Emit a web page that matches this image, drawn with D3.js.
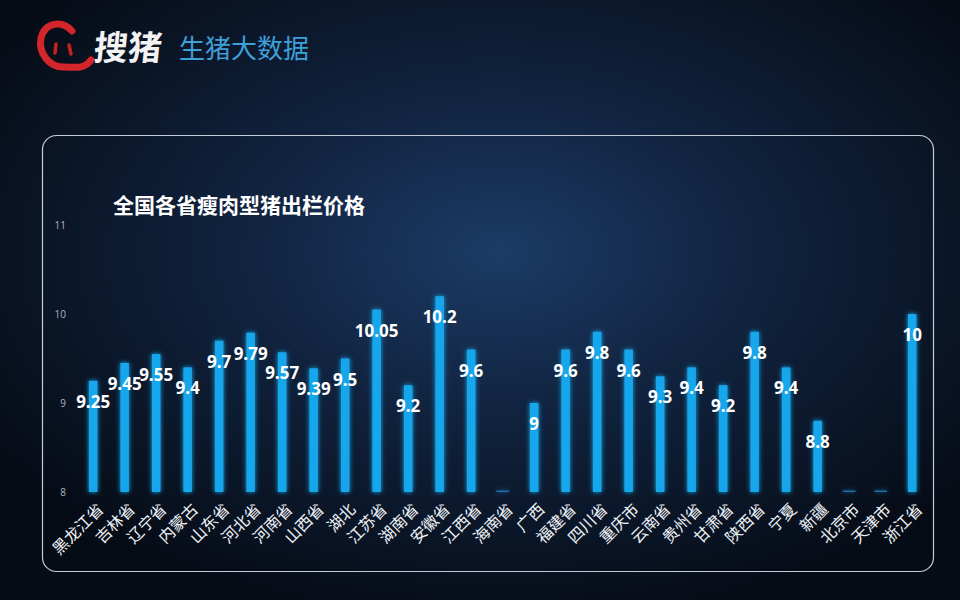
<!DOCTYPE html>
<html lang="zh">
<head>
<meta charset="UTF-8">
<script src="https://cdn.jsdelivr.net/npm/d3@7"></script>
<title>全国各省瘦肉型猪出栏价格</title>
<style>
  html, body { margin: 0; padding: 0; background: #08101c; }
  svg { display: block; }
</style>
</head>
<body>
<script>
    // 数据
    const provinces = ["黑龙江省","吉林省","辽宁省","内蒙古","山东省","河北省","河南省","山西省","湖北","江苏省",
                       "湖南省","安徽省","江西省","海南省","广西","福建省","四川省","重庆市","云南省","贵州省",
                       "甘肃省","陕西省","宁夏","新疆","北京市","天津市","浙江省"]
    const prices = [9.25, 9.45, 9.55, 9.4, 9.7, 9.79, 9.57, 9.39, 9.5, 10.05,
                    9.2, 10.2, 9.6, null, 9, 9.6, 9.8, 9.6, 9.3, 9.4,
                    9.2, 9.8, 9.4, 8.8, null, null, 10]
    const yTicks = [8, 9, 10, 11]
    const title = "全国各省瘦肉型猪出栏价格"

    const width = 960, height = 600
    const svg = d3.select("body").append("svg").attr("width", width).attr("height", height)
    const defs = svg.append("defs")

    // 背景渐变
    const bg = defs.append("radialGradient").attr("id", "bg")
        .attr("cx", "52%").attr("cy", "42%").attr("r", "62%")
    bg.append("stop").attr("offset", "0%").attr("stop-color", "#1c3b66")
    bg.append("stop").attr("offset", "45%").attr("stop-color", "#10223d")
    bg.append("stop").attr("offset", "100%").attr("stop-color", "#060c16")
    svg.append("rect").attr("width", width).attr("height", height).attr("fill", "url(#bg)")

    // 柱子发光
    const glow = defs.append("filter").attr("id", "glow")
        .attr("x", "-150%").attr("y", "-20%").attr("width", "400%").attr("height", "140%")
    glow.append("feGaussianBlur").attr("in", "SourceGraphic").attr("stdDeviation", 2.5).attr("result", "b")
    const merge = glow.append("feMerge")
    merge.append("feMergeNode").attr("in", "b")
    merge.append("feMergeNode").attr("in", "SourceGraphic")

    // logo
    const logo = svg.append("g")
    logo.append("path")
        .attr("d", "M72,31 C62,20 45,22 41,38 C38,54 50,67 63,67 C74,67 84,70 91,60")
        .attr("fill", "none").attr("stroke", "#d3262a").attr("stroke-width", 7).attr("stroke-linecap", "round")
    logo.append("path").attr("d", "M56,44 L55,53").attr("stroke", "#c81f1f").attr("stroke-width", 3.5).attr("stroke-linecap", "round")
    logo.append("path").attr("d", "M69,45 L71,54").attr("stroke", "#c81f1f").attr("stroke-width", 3.5).attr("stroke-linecap", "round")
    logo.append("text").attr("x", 94).attr("y", 60)
        .attr("font-family", "'Noto Sans CJK SC'").attr("font-weight", 700).attr("font-size", 34)
        .attr("fill", "#f2f2f2").attr("transform", "skewX(-6) translate(5,0)")
        .text("搜猪")
    logo.append("text").attr("x", 179).attr("y", 58)
        .attr("font-family", "'Noto Sans CJK SC'").attr("font-weight", 400).attr("font-size", 26)
        .attr("fill", "#3f9fd9")
        .text("生猪大数据")

    // 面板
    svg.append("rect").attr("x", 42.5).attr("y", 135.5).attr("width", 891).attr("height", 436)
        .attr("rx", 14).attr("fill", "none").attr("stroke", "#c3ccd8").attr("stroke-width", 1.2)

    svg.append("text").attr("x", 113).attr("y", 204).attr("dominant-baseline", "central")
        .attr("font-family", "'Noto Sans CJK SC'").attr("font-weight", 700).attr("font-size", 21)
        .attr("fill", "#ffffff").text(title)

    // 比例尺
    const x = d3.scaleBand().domain(provinces).range([77.4, 927.9]).paddingInner(0.73).paddingOuter(0.365)
    const y = d3.scaleLinear().domain([8, 11]).range([492, 225])

    // y轴
    const yAxis = svg.append("g").attr("transform", "translate(69,0)")
        .call(d3.axisLeft(y).tickValues(yTicks).tickSize(0).tickPadding(3).tickFormat(d3.format("d")))
    yAxis.select(".domain").remove()
    yAxis.selectAll("text").attr("fill", "#a9b4c2").attr("font-size", 10)
        .attr("font-family", "'Open Sans', sans-serif")

    // x轴
    const xAxis = svg.append("g").attr("transform", "translate(0,498)")
        .call(d3.axisBottom(x).tickSize(0).tickPadding(0))
    xAxis.select(".domain").remove()
    xAxis.selectAll("text")
        .attr("fill", "#eef2f7").attr("font-size", 16)
        .attr("font-family", "'Noto Sans CJK SC'")
        .attr("text-anchor", "end").attr("dy", "0.75em")
        .attr("transform", "translate(3,4) rotate(-45)")

    // 柱子
    const rows = provinces.map((p, i) => ({ name: p, value: prices[i] }))
    svg.append("g").attr("filter", "url(#glow)")
        .selectAll("rect")
        .data(rows)
        .enter()
        .append("rect")
        .attr("x", d => d.value == null ? x(d.name) - 2 : x(d.name))
        .attr("width", d => d.value == null ? x.bandwidth() + 4 : x.bandwidth())
        .attr("y", d => d.value == null ? y(8) - 1.5 : y(d.value))
        .attr("height", d => d.value == null ? 1.5 : y(8) - y(d.value))
        .attr("fill", d => d.value == null ? "#1f6fa8" : "#19a6ec")

    // 数值标签
    svg.selectAll(".val")
        .data(rows.filter(d => d.value != null))
        .enter()
        .append("text")
        .attr("class", "val")
        .attr("x", d => x(d.name) + x.bandwidth() / 2)
        .attr("y", d => y(d.value) + 27)
        .attr("text-anchor", "middle")
        .attr("font-family", "'Open Sans', sans-serif").attr("font-weight", 700).attr("font-size", 17)
        .attr("fill", "#ffffff")
        .text(d => d.value)
</script>
</body>
</html>
